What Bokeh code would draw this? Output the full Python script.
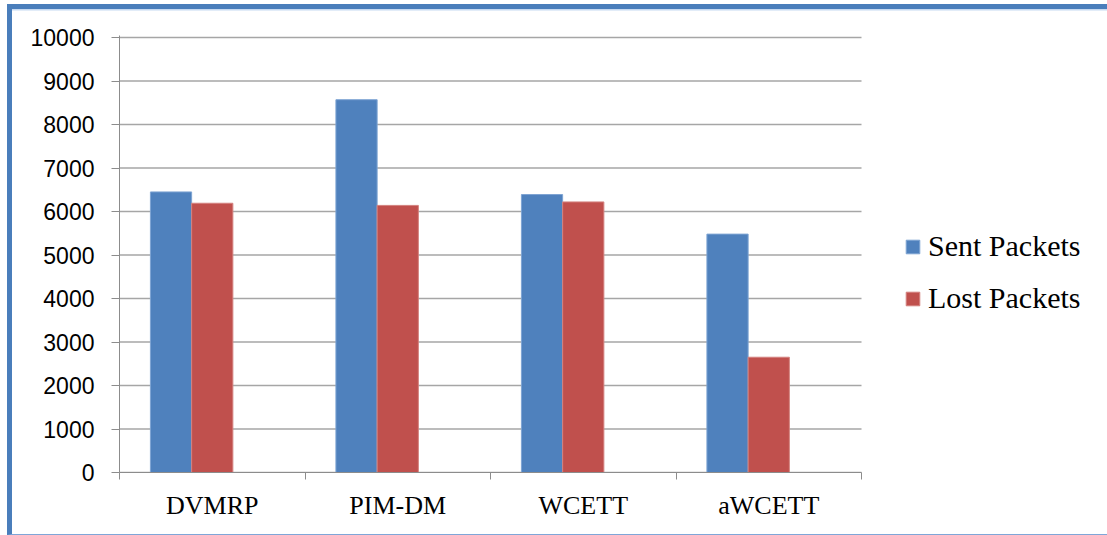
from bokeh.plotting import figure
from bokeh.models import (Range1d, FixedTicker, Legend, LegendItem,
                          ColumnDataSource, InlineStyleSheet)
from bokeh.embed import file_html
from bokeh.resources import INLINE

# Packet counts per multicast routing protocol
protocols = ["DVMRP", "PIM-DM", "WCETT", "aWCETT"]
sent_packets = [6450, 8570, 6390, 5480]
lost_packets = [6190, 6140, 6220, 2650]
y_ticks = [0, 1000, 2000, 3000, 4000, 5000, 6000, 7000, 8000, 9000, 10000]

BLUE = "#4F81BD"
RED = "#C0504D"
BAR_W = 1 / 4.5  # three slots per group plus a 150% gap

n = len(protocols)
centers = [i + 0.5 for i in range(n)]
src = ColumnDataSource(dict(
    sent_x=[c - BAR_W for c in centers],
    lost_x=centers,
    sent=sent_packets,
    lost=lost_packets,
))
grid_src = ColumnDataSource(dict(y=y_ticks, x0=[0] * len(y_ticks), x1=[n] * len(y_ticks)))

# the frame runs to the right edge so the legend can sit inside it;
# the category area itself covers 742 of its 988 pixels
PLOT_PX, FRAME_PX = 742, 988
p = figure(width=1107, height=535, output_backend="svg", toolbar_location=None,
           x_range=Range1d(0, n * FRAME_PX / PLOT_PX), y_range=Range1d(0, 10046),
           min_border_left=119, min_border_right=0,
           min_border_top=35, min_border_bottom=63)
p.outline_line_color = None
p.background_fill_color = "white"
p.border_fill_color = "white"

# value axis
p.yaxis.ticker = FixedTicker(ticks=y_ticks, minor_ticks=[])
p.yaxis.major_label_text_font = "Liberation Sans"
p.yaxis.major_label_text_font_size = "23px"
p.yaxis.major_label_text_color = "black"
p.yaxis.major_tick_out = 8
p.yaxis.major_tick_in = 0
p.yaxis.major_label_standoff = 17
p.yaxis.axis_line_color = "#8c8c8c"
p.yaxis.major_tick_line_color = "#8c8c8c"

# category axis: labels at group centres, ticks at group boundaries
p.xaxis.bounds = (0, n)
p.xaxis.ticker = FixedTicker(ticks=centers, minor_ticks=list(range(n + 1)))
p.xaxis.major_label_overrides = {c: name for c, name in zip(centers, protocols)}
p.xaxis.major_label_text_font = "Liberation Serif"
p.xaxis.major_label_text_font_size = "26px"
p.xaxis.major_label_text_color = "black"
p.xaxis.major_tick_out = 0
p.xaxis.major_tick_in = 0
p.xaxis.minor_tick_out = 7
p.xaxis.minor_tick_in = 0
p.xaxis.major_label_standoff = 11
p.xaxis.axis_line_color = "#8c8c8c"
p.xaxis.minor_tick_line_color = "#8c8c8c"

# horizontal gridlines across the category area only
p.xgrid.visible = False
p.ygrid.visible = False
p.segment(x0="x0", x1="x1", y0="y", y1="y", source=grid_src,
          line_color="#a6a6a6", line_width=1.5)

r_sent = p.vbar(x="sent_x", top="sent", bottom=0, width=BAR_W, source=src,
                fill_color=BLUE, line_color="#7EA4D3", line_width=1)
r_lost = p.vbar(x="lost_x", top="lost", bottom=0, width=BAR_W, source=src,
                fill_color=RED, line_color="#D4827F", line_width=1)

legend = Legend(items=[LegendItem(label="Sent Packets", renderers=[r_sent]),
                       LegendItem(label="Lost Packets", renderers=[r_lost])],
                location=(785, 157), orientation="vertical", padding=0, margin=0,
                border_line_color=None, background_fill_alpha=0,
                glyph_width=17, glyph_height=17, label_standoff=7, spacing=18,
                label_text_font="Liberation Serif", label_text_font_size="30px",
                label_text_color="black")
p.add_layout(legend)

# blue frame around the chart
p.stylesheets = [InlineStyleSheet(css="""
:host::after {
  content: "";
  position: absolute;
  left: 7px; top: 4px; right: 0; bottom: 0.5px;
  border-top: 5px solid #4A7EBB;
  border-left: 5px solid #4A7EBB;
  border-bottom: 1.5px solid #7FA6D8;
  box-shadow: inset 0 1.5px 0 #C6D9F1;
  pointer-events: none;
  z-index: 10;
}
""")]

open("out.html", "w").write(file_html(p, INLINE))
